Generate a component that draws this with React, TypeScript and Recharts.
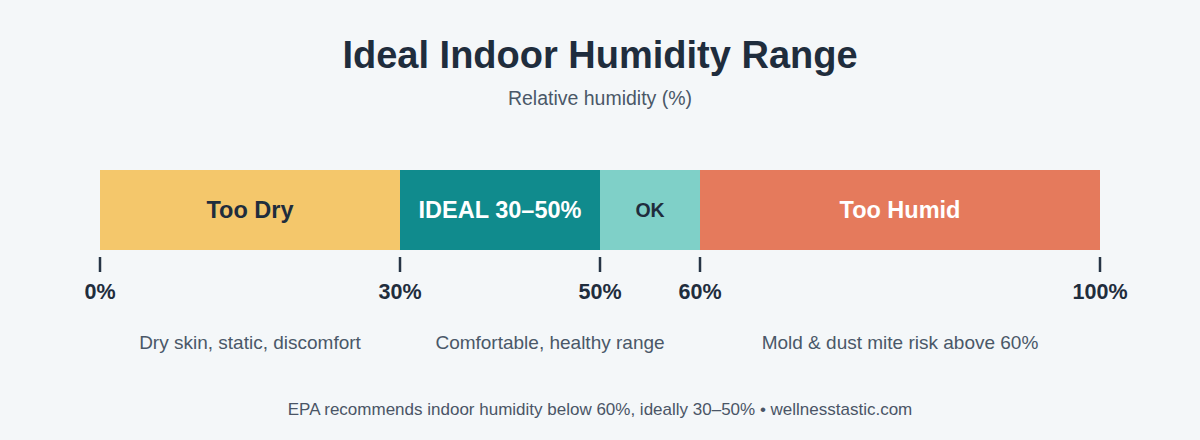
import { Bar, BarChart, LabelList, XAxis, YAxis } from 'recharts';

// humidity zones, widths in % points (stacked left to right)
const zones = ['Too Dry', 'IDEAL 30–50%', 'OK', 'Too Humid'];
const zoneWidths = [30, 20, 10, 40];
const zoneColors = ['#F4C76B', '#108B8D', '#7FD0C8', '#E57A5C'];
const zoneTextColors = ['#1F2D3D', '#FFFFFF', '#1F2D3D', '#FFFFFF'];
const zoneFontSizes = [23.5, 23.5, 19.5, 23.5];

const boundaryTicks = [0, 30, 50, 60, 100];

// notes sit at the middle of each broad band
const noteTicks = [15, 45, 80];
const noteLabels = ['Dry skin, static, discomfort', 'Comfortable, healthy range', 'Mold & dust mite risk above 60%'];

const FONT = '"Liberation Sans", Arial, Helvetica, sans-serif';
const DARK = '#1F2D3D';

const row: Record<string, string | number> = { name: 'humidity' };
zones.forEach((z, i) => {
  row[`z${i}`] = zoneWidths[i];
});
const data = [row];

const allTicks = [...boundaryTicks, ...noteTicks].sort((a, b) => a - b);

const AxisTick = ({ x, y, payload }: any) => {
  const noteIdx = noteTicks.indexOf(payload.value);
  if (noteIdx >= 0) {
    return (
      <text
        x={x}
        y={y + 94}
        textAnchor="middle"
        dominantBaseline="middle"
        fontFamily={FONT}
        fontSize={19}
        fill="#4A5868"
      >
        {noteLabels[noteIdx]}
      </text>
    );
  }
  return (
    <g>
      <line x1={x} x2={x} y1={y + 7} y2={y + 22} stroke="#263445" strokeWidth={2.5} />
      <text
        x={x}
        y={y + 43}
        textAnchor="middle"
        dominantBaseline="middle"
        fontFamily={FONT}
        fontWeight={700}
        fontSize={21.5}
        fill={DARK}
      >
        {payload.value}%
      </text>
    </g>
  );
};

const App = () => {
  return (
    <div style={{ position: 'relative', width: 1200, height: 440, background: '#F4F7F9', fontFamily: FONT }}>
      <style>{'body{margin:0}'}</style>
      <div
        style={{
          position: 'absolute',
          top: 32,
          width: '100%',
          textAlign: 'center',
          fontSize: 38,
          fontWeight: 700,
          color: DARK,
          lineHeight: '46px',
        }}
      >
        Ideal Indoor Humidity Range
      </div>
      <div
        style={{
          position: 'absolute',
          top: 87,
          width: '100%',
          textAlign: 'center',
          fontSize: 19.5,
          color: '#4A5868',
          lineHeight: '22px',
        }}
      >
        Relative humidity (%)
      </div>
      <BarChart
        width={1200}
        height={440}
        data={data}
        layout="vertical"
        margin={{ top: 170, right: 100, bottom: 0, left: 100 }}
        barCategoryGap={0}
        style={{ position: 'absolute', top: 0, left: 0 }}
      >
        <YAxis type="category" dataKey="name" hide />
        <XAxis
          type="number"
          domain={[0, 100]}
          ticks={allTicks}
          interval={0}
          axisLine={false}
          tickLine={false}
          tickSize={0}
          tickMargin={0}
          height={190}
          tick={<AxisTick />}
        />
        {zones.map((z, i) => (
          <Bar key={z} dataKey={`z${i}`} stackId="h" fill={zoneColors[i]} isAnimationActive={false}>
            <LabelList
              dataKey={`z${i}`}
              position="center"
              formatter={() => z}
              fill={zoneTextColors[i]}
              fontFamily={FONT}
              fontWeight={700}
              fontSize={zoneFontSizes[i]}
            />
          </Bar>
        ))}
      </BarChart>
      <div
        style={{
          position: 'absolute',
          top: 399,
          width: '100%',
          textAlign: 'center',
          fontSize: 17,
          color: '#4A5566',
          lineHeight: '22px',
        }}
      >
        EPA recommends indoor humidity below 60%, ideally 30–50% • wellnesstastic.com
      </div>
    </div>
  );
};

export default App;
